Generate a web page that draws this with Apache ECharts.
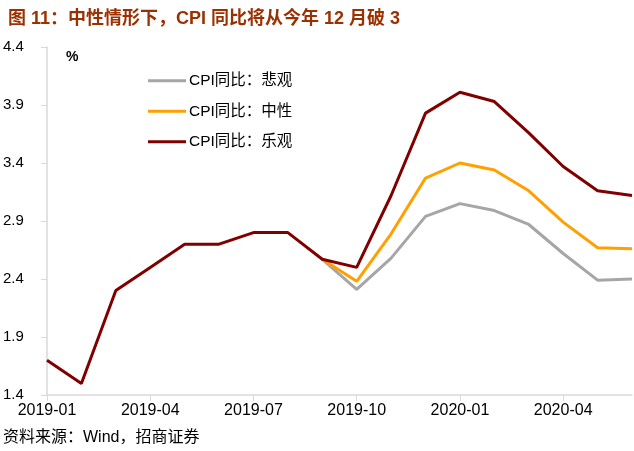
<!DOCTYPE html>
<html>
<head>
<meta charset="utf-8">
<script src="https://cdn.jsdelivr.net/npm/echarts@6/dist/echarts.min.js"></script>
<style>
html,body{margin:0;padding:0;background:#fff;}
#c{width:634px;height:451px;}
</style>
</head>
<body>
<div id="c"></div>
<script>
var months = ['2019-01','2019-02','2019-03','2019-04','2019-05','2019-06','2019-07','2019-08','2019-09','2019-10','2019-11','2019-12','2020-01','2020-02','2020-03','2020-04','2020-05','2020-06'];
var pessimistic = [null,null,null,null,null,null,null,null,2.57,2.31,2.58,2.94,3.05,2.99,2.87,2.62,2.39,2.40];
var neutral     = [null,null,null,null,null,null,null,null,2.57,2.38,2.79,3.27,3.40,3.34,3.16,2.89,2.67,2.66];
var optimistic  = [1.7,1.5,2.3,2.5,2.7,2.7,2.8,2.8,2.57,2.50,3.12,3.83,4.01,3.93,3.66,3.37,3.16,3.12];
var seriesNames = ['CPI同比：悲观','CPI同比：中性','CPI同比：乐观'];
var yTicks = [1.4,1.9,2.4,2.9,3.4,3.9,4.4];

var colors = ['#A6A6A6','#FFA000','#800000'];
var latin = '"Liberation Sans", Arial, sans-serif';
var cjk = '"Liberation Sans", "Noto Sans CJK SC", sans-serif';

var chart = echarts.init(document.getElementById('c'), null, {renderer:'canvas'});
var option = {
  animation: false,
  backgroundColor: '#fff',
  title: {
    text: '图 11：中性情形下，CPI 同比将从今年 12 月破 3',
    left: 3, top: 5,
    textStyle: {color:'#9B3000', fontSize:18, fontWeight:'bold', fontFamily: cjk}
  },
  legend: {
    orient: 'vertical', left: 143, top: 68, itemGap: 15,
    itemWidth: 38, itemHeight: 3, icon: 'rect',
    textStyle: {color:'#000', fontSize:15.5, fontFamily: cjk, padding:[0,0,0,-2]},
    data: seriesNames
  },
  grid: {left:47, right:2, top:47, bottom:56, containLabel:false},
  xAxis: {
    type: 'category', data: months, boundaryGap: false,
    axisLine: {lineStyle:{color:'#D9D9D9', width:1.5}},
    axisTick: {show:true, interval:2, length:6, lineStyle:{color:'#D9D9D9'}},
    axisLabel: {interval:2, color:'#000', fontSize:16, margin:8, fontFamily: latin},
    splitLine: {show:false}
  },
  yAxis: {
    type: 'value', min: yTicks[0], max: yTicks[yTicks.length-1], interval: 0.5,
    axisLine: {show:true, lineStyle:{color:'#D9D9D9', width:1.5}},
    axisTick: {show:true, length:6, lineStyle:{color:'#D9D9D9'}},
    axisLabel: {color:'#000', fontSize:15, align:'left', margin:44, fontFamily: latin,
      formatter: function(v){ return v.toFixed(1); }},
    splitLine: {show:false}
  },
  graphic: [
    {type:'text', left:66, top:50, style:{text:'%', fill:'#000', font:'bold 14px "Liberation Sans", Arial'}},
    {type:'text', left:3, top:430, style:{text:'资料来源：Wind，招商证券', fill:'#000', font:'16px "Liberation Sans", "Noto Sans CJK SC"'}}
  ],
  series: [
    {name: seriesNames[0], type:'line', data: pessimistic, symbol:'none', lineStyle:{color:colors[0], width:3}, itemStyle:{color:colors[0]}, z:2},
    {name: seriesNames[1], type:'line', data: neutral, symbol:'none', lineStyle:{color:colors[1], width:3}, itemStyle:{color:colors[1]}, z:3},
    {name: seriesNames[2], type:'line', data: optimistic, symbol:'none', lineStyle:{color:colors[2], width:3}, itemStyle:{color:colors[2]}, z:4}
  ]
};
chart.setOption(option);
</script>
</body>
</html>
